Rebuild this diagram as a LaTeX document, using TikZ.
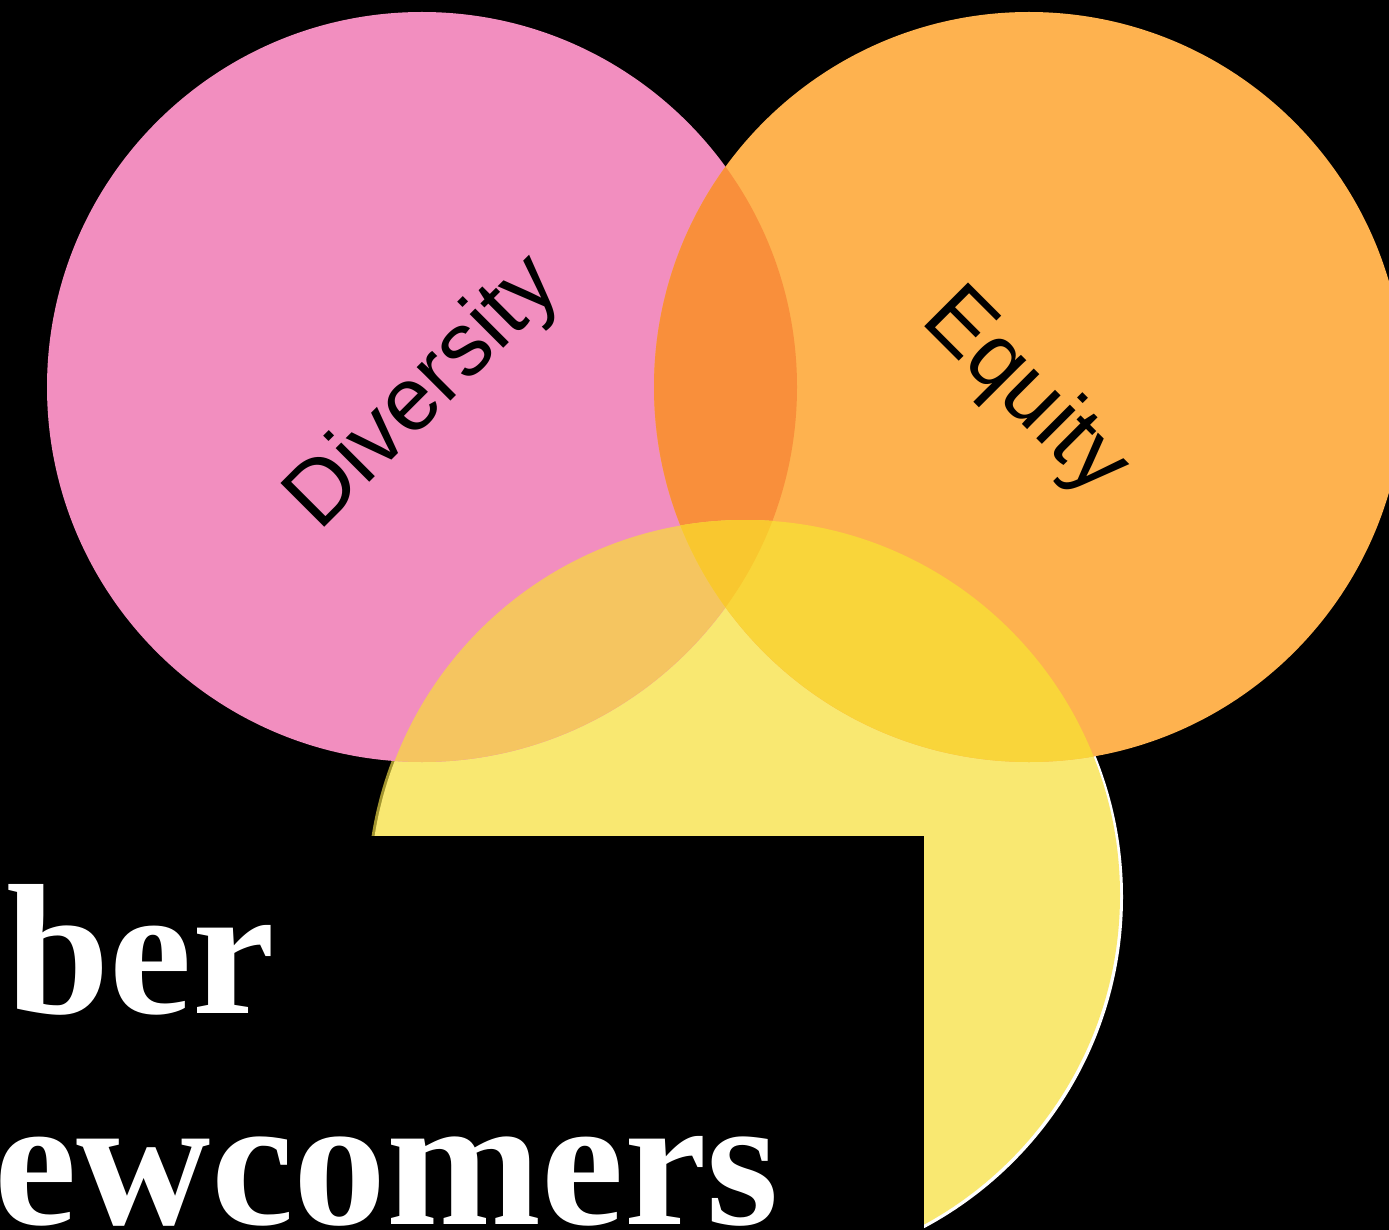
\documentclass[tikz,border=0pt]{standalone}
\usepackage{fontspec}
\usetikzlibrary{calc}
\setmainfont{Liberation Serif}
\newfontfamily\labelfont{Liberation Sans}
\definecolor{pinkc}{HTML}{F28EBF}
\definecolor{orangec}{HTML}{FEB24F}
\definecolor{yellowc}{HTML}{F9E871}
\definecolor{pinkorange}{HTML}{F98F3B}
\definecolor{pinkyellow}{HTML}{F5C560}
\definecolor{orangeyellow}{HTML}{F9D53A}
\definecolor{allthree}{HTML}{F9C72F}
\definecolor{olivec}{HTML}{A3952F}
\tikzset{
  ring/.style={radius=375pt},
  circlelabel/.style={font=\labelfont\fontsize{90}{90}\selectfont, text=black, inner sep=0pt},
  bigword/.style={font=\bfseries\fontsize{186}{186}\selectfont, text=white, inner sep=0pt, anchor=base west}
}
\begin{document}
\begin{tikzpicture}[x=1pt,y=-1pt]
  % canvas
  \fill[black] (0,0) rectangle (1389,1230);
  \useasboundingbox (0,0) rectangle (1389,1230);

  % circle centres
  \coordinate (P) at (422,387);
  \coordinate (O) at (1029,387);
  \coordinate (Y) at (745,895);

  % faint rim around the lower circle
  \fill[olivec] ($(Y)+(-3,0)$) circle[ring];
  \fill[white] ($(Y)+(3,2)$) circle[ring];
  \fill[yellowc] (Y) circle[ring];

  % upper circles
  \fill[pinkc] (P) circle[ring];
  \fill[orangec] (O) circle[ring];

  % overlaps
  \begin{scope}
    \clip (P) circle[ring];
    \fill[pinkorange] (O) circle[ring];
  \end{scope}
  \begin{scope}
    \clip (Y) circle[ring];
    \fill[pinkyellow] (P) circle[ring];
  \end{scope}
  \begin{scope}
    \clip (Y) circle[ring];
    \fill[orangeyellow] (O) circle[ring];
  \end{scope}
  \begin{scope}
    \clip (Y) circle[ring];
    \clip (P) circle[ring];
    \fill[allthree] (O) circle[ring];
  \end{scope}

  % black panel over the lower circle
  \fill[black] (0,836) rectangle (924,1230);

  % labels
  \node[circlelabel, rotate=45] (div) at (425,394) {Diversity};
  \node[circlelabel, rotate=-45] (eq) at (1024,393) {Equity};

  \node[bigword] (w1) at (6,1013) {ber};
  \node[bigword] (w2) at (-6,1224) {ewcomers};
\end{tikzpicture}
\end{document}
